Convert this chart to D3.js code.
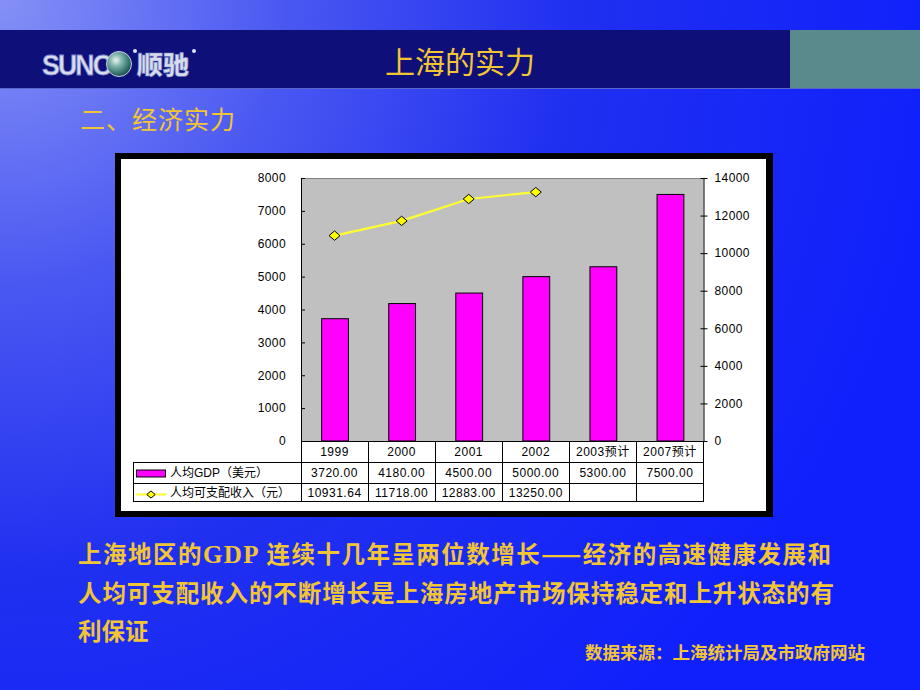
<!DOCTYPE html>
<html><head><meta charset="utf-8">
<script src="https://cdn.jsdelivr.net/npm/d3@7"></script>
<style>html,body{margin:0;padding:0;background:#1020f8;overflow:hidden}svg{display:block}</style>
</head><body>
<script>
const categories = ["1999","2000","2001","2002","2003预计","2007预计"];
const gdpValues = [3720, 4180, 4500, 5000, 5300, 7500];
const incomeValues = [10931.64, 11718, 12883, 13250, null, null];
const gdpLabels = ["3720.00","4180.00","4500.00","5000.00","5300.00","7500.00"];
const incomeLabels = ["10931.64","11718.00","12883.00","13250.00","",""];
const leftTicks = [0,1000,2000,3000,4000,5000,6000,7000,8000];
const rightTicks = [0,2000,4000,6000,8000,10000,12000,14000];
const seriesNames = ["人均GDP（美元）","人均可支配收入（元）"];

const W=920,H=690;
const gold="#f2c534";
const cjk="'Noto Sans CJK SC','Noto Sans CJK JP',sans-serif";
const latin="'Liberation Sans',Arial,sans-serif";

const svg=d3.select("body").append("svg").attr("width",W).attr("height",H);
const defs=svg.append("defs");
const bg=defs.append("radialGradient").attr("id","bg").attr("gradientUnits","userSpaceOnUse")
  .attr("cx",0).attr("cy",0).attr("r",950);
[[0,"#8590f6"],[0.3,"#4a58f2"],[0.6,"#2030f0"],[1,"#1020fc"]].forEach(s=>bg.append("stop").attr("offset",s[0]).attr("stop-color",s[1]));
svg.append("rect").attr("width",W).attr("height",H).attr("fill","url(#bg)");

// header band
svg.append("rect").attr("x",0).attr("y",30).attr("width",W).attr("height",58).attr("fill","#0e0f78");
svg.append("rect").attr("x",790).attr("y",30).attr("width",130).attr("height",58).attr("fill","#5a8a8c");
svg.append("line").attr("x1",0).attr("x2",W).attr("y1",88.5).attr("y2",88.5).attr("stroke","#5a66c8").attr("stroke-width",1);

// logo
const sph=defs.append("radialGradient").attr("id","sph").attr("cx","0.38").attr("cy","0.35").attr("r","0.7");
[[0,"#e8f4f0"],[0.35,"#7fb4aa"],[0.8,"#2e6a66"],[1,"#1a4446"]].forEach(s=>sph.append("stop").attr("offset",s[0]).attr("stop-color",s[1]));
svg.append("text").attr("x",42).attr("y",75).attr("font-family",latin).attr("font-weight","bold")
  .attr("font-size",29).attr("fill","#d8dcec").attr("stroke","#7a88c8").attr("stroke-width",0.8)
  .attr("textLength",68).attr("lengthAdjust","spacingAndGlyphs").attr("letter-spacing","-2px").text("SUNC");
svg.append("circle").attr("cx",119).attr("cy",64).attr("r",12.5).attr("fill","url(#sph)").attr("stroke","#c8d0e0").attr("stroke-width",1);
svg.append("text").attr("x",137).attr("y",74).attr("font-family",cjk).attr("font-weight",900)
  .attr("font-size",25).attr("fill","#d8dcec").attr("stroke","#7a88c8").attr("stroke-width",0.6)
  .attr("textLength",52).attr("lengthAdjust","spacingAndGlyphs").text("顺驰");
[[135,51],[194,51]].forEach(p=>svg.append("circle").attr("cx",p[0]).attr("cy",p[1]).attr("r",2).attr("fill","#e0e4f0"));

// titles
svg.append("text").attr("x",460).attr("y",72.5).attr("text-anchor","middle").attr("font-family",cjk)
  .attr("font-size",30).attr("fill",gold).text("上海的实力");
svg.append("text").attr("x",80).attr("y",129).attr("font-family",cjk)
  .attr("font-size",25).attr("fill",gold).attr("textLength",155).attr("lengthAdjust","spacing").text("二、经济实力");

// chart frame
svg.append("rect").attr("x",115).attr("y",153).attr("width",658).attr("height",364).attr("fill","#000");
svg.append("rect").attr("x",121).attr("y",159).attr("width",645).attr("height",352).attr("fill","#fff");

const plotL=301,plotR=703.5,plotT=178,plotB=441;
const x=d3.scaleBand().domain(categories).range([plotL,plotR]).padding(0);
const yL=d3.scaleLinear().domain([0,8000]).range([plotB,plotT]);
const yR=d3.scaleLinear().domain([0,14000]).range([plotB,plotT]);

svg.append("rect").attr("x",plotL).attr("y",plotT).attr("width",plotR-plotL).attr("height",plotB-plotT).attr("fill","#c0c0c0");
svg.append("line").attr("x1",plotL).attr("x2",plotR).attr("y1",plotT+0.5).attr("y2",plotT+0.5).attr("stroke","#808080");

// bars
const bw=x.bandwidth();
svg.append("g").selectAll("rect").data(gdpValues).join("rect")
  .attr("x",(d,i)=>x(categories[i])+bw*0.3+0.5).attr("width",bw*0.4)
  .attr("y",d=>yL(d)).attr("height",d=>yL(0)-yL(d))
  .attr("fill","#ff00ff").attr("stroke","#000").attr("stroke-width",1);

// line
const pts=incomeValues.map((v,i)=>({v,c:categories[i]})).filter(d=>d.v!=null);
svg.append("path").datum(pts)
  .attr("d",d3.line().x(d=>x(d.c)+bw/2).y(d=>yR(d.v)))
  .attr("fill","none").attr("stroke","#ffff30").attr("stroke-width",2.2);
const diamond=(s)=>`M0,${-s*0.85}L${s},0L0,${s*0.85}L${-s},0Z`;
svg.append("g").selectAll("path").data(pts).join("path")
  .attr("transform",d=>`translate(${x(d.c)+bw/2},${yR(d.v)})`)
  .attr("d",diamond(5.5)).attr("fill","#ffff00").attr("stroke","#000").attr("stroke-width",1);

// axes
const axL=svg.append("g").attr("transform",`translate(${plotL},0)`)
  .call(d3.axisLeft(yL).tickValues(leftTicks).tickSizeInner(-4).tickSizeOuter(0).tickPadding(15).tickFormat(d3.format("d")));
const axR=svg.append("g").attr("transform",`translate(${plotR},0)`)
  .call(d3.axisRight(yR).tickValues(rightTicks).tickSizeInner(4).tickSizeOuter(0).tickPadding(7).tickFormat(d3.format("d")));
[axL,axR].forEach(a=>{
  a.selectAll("text").attr("font-family",latin).attr("font-size",12).attr("fill","#000").attr("letter-spacing","0.4px");
  a.select(".domain").attr("stroke","#000");
  a.selectAll(".tick line").attr("stroke","#000");
});
axR.selectAll(".tick line").attr("x1",-3);

// data table
const tblL=133, r0=441, r1=462, r2=483, r3=501;
const tg=svg.append("g").attr("stroke","#000").attr("stroke-width",1).attr("shape-rendering","crispEdges");
[[plotL,r0],[tblL,r1],[tblL,r2],[tblL,r3]].forEach(([x0,yy])=>tg.append("line").attr("x1",x0).attr("x2",plotR).attr("y1",yy).attr("y2",yy));
tg.append("line").attr("x1",tblL).attr("x2",tblL).attr("y1",r1).attr("y2",r3);
categories.forEach(c=>tg.append("line").attr("x1",x(c)).attr("x2",x(c)).attr("y1",r0).attr("y2",r3));
tg.append("line").attr("x1",plotR).attr("x2",plotR).attr("y1",r0).attr("y2",r3);

const tt=svg.append("g").attr("font-family",latin).attr("font-size",12).attr("fill","#000").attr("text-anchor","middle").attr("letter-spacing","0.5px");
categories.forEach((c,i)=>{
  const cx=x(c)+bw/2;
  tt.append("text").attr("x",cx).attr("y",451.5).attr("dy","0.35em").attr("font-family",`${latin.split(",")[0]},${cjk}`).text(c);
  tt.append("text").attr("x",cx).attr("y",473).attr("dy","0.35em").text(gdpLabels[i]);
  tt.append("text").attr("x",cx).attr("y",493).attr("dy","0.35em").text(incomeLabels[i]);
});

// legend
svg.append("rect").attr("x",136.5).attr("y",470).attr("width",29).attr("height",7).attr("fill","#ff00ff").attr("stroke","#000");
svg.append("line").attr("x1",136).attr("x2",166).attr("y1",494.5).attr("y2",494.5).attr("stroke","#ffff30").attr("stroke-width",2);
svg.append("path").attr("transform","translate(151,494.5)").attr("d",diamond(4.2)).attr("fill","#ffff00").attr("stroke","#000");
const lg=svg.append("g").attr("font-family",`${latin.split(",")[0]},${cjk}`).attr("font-size",12).attr("fill","#000");
lg.append("text").attr("x",170).attr("y",473).attr("dy","0.35em").text(seriesNames[0]);
lg.append("text").attr("x",170).attr("y",493).attr("dy","0.35em").text(seriesNames[1]);

// body text
const bt=svg.append("g").attr("font-family",cjk).attr("font-weight",700).attr("font-size",23.5).attr("fill",gold);
const l1=bt.append("text").attr("x",78).attr("y",562.5).attr("textLength",753).attr("lengthAdjust","spacing");
l1.append("tspan").text("上海地区的");
l1.append("tspan").attr("font-family","'Liberation Serif',serif").attr("font-size",25).text("GDP ");
l1.append("tspan").text("连续十几年呈两位数增长——经济的高速健康发展和");
bt.append("text").attr("x",78).attr("y",601.5).attr("textLength",756).attr("lengthAdjust","spacing")
  .text("人均可支配收入的不断增长是上海房地产市场保持稳定和上升状态的有");
bt.append("text").attr("x",78).attr("y",639.5).text("利保证");
svg.append("text").attr("x",865).attr("y",658.5).attr("text-anchor","end").attr("font-family",cjk)
  .attr("font-weight",700).attr("font-size",17.5).attr("fill",gold).text("数据来源：上海统计局及市政府网站");
</script>
</body></html>
